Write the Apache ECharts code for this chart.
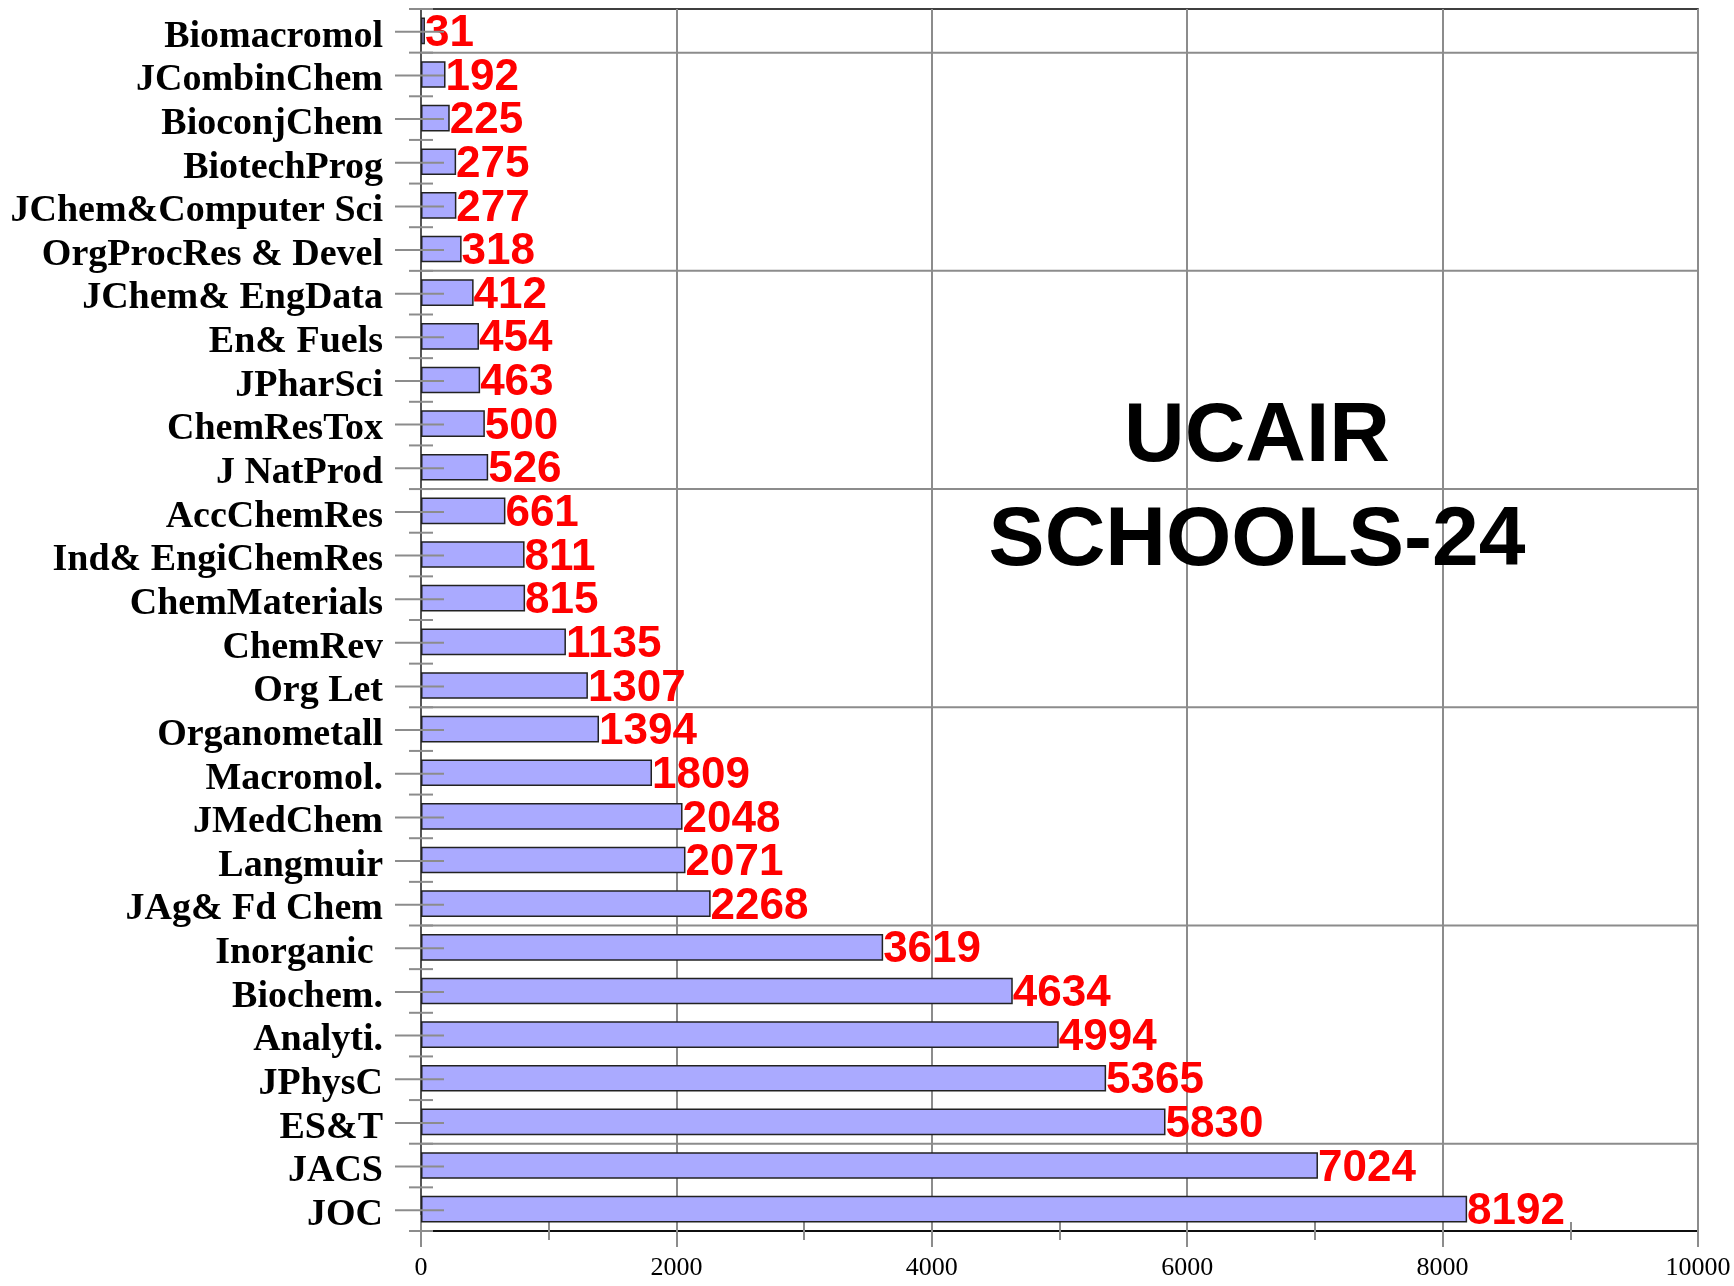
<!DOCTYPE html>
<html>
<head>
<meta charset="utf-8">
<script src="https://cdn.jsdelivr.net/npm/echarts@6/dist/echarts.min.js"></script>
<style>
  html, body { margin: 0; padding: 0; background: #fff; }
  #chart { width: 1734px; height: 1286px; }
</style>
</head>
<body>
<div id="chart"></div>
<script>
// journals, top to bottom
var journals = ['Biomacromol', 'JCombinChem', 'BioconjChem', 'BiotechProg', 'JChem&Computer Sci',
  'OrgProcRes & Devel', 'JChem& EngData', 'En& Fuels', 'JPharSci', 'ChemResTox', 'J NatProd',
  'AccChemRes', 'Ind& EngiChemRes', 'ChemMaterials', 'ChemRev', 'Org Let', 'Organometall',
  'Macromol.', 'JMedChem', 'Langmuir', 'JAg& Fd Chem', 'Inorganic ', 'Biochem.', 'Analyti.',
  'JPhysC', 'ES&T', 'JACS', 'JOC'];
var counts = [31, 192, 225, 275, 277, 318, 412, 454, 463, 500, 526, 661, 811, 815, 1135, 1307,
  1394, 1809, 2048, 2071, 2268, 3619, 4634, 4994, 5365, 5830, 7024, 8192];
// rows (from top) that get a horizontal grid line on their upper edge
var separatorRows = [1, 6, 11, 16, 21, 26];
var titleLines = ['UCAIR', 'SCHOOLS-24'];

var dom = document.getElementById('chart');
var myChart = echarts.init(dom, null, { renderer: 'canvas' });

var gray = '#8c8c8c';
var gridTop = 9, gridBottom = 55;
var gridH = 1286 - gridTop - gridBottom;

// tick marks on the category axis cross the axis line, so draw them here
function renderRowTicks(params, api) {
  var i = api.value(1);
  var c = api.coord([0, i]);
  var band = api.size([0, 1])[1];
  var x0 = c[0], yc = c[1] + 1, yTop = c[1] - band / 2;
  var st = { stroke: gray, lineWidth: 2 };
  var kids = [
    { type: 'line', shape: { x1: x0 - 26, y1: yc, x2: x0 + 23, y2: yc }, style: st },
    { type: 'line', shape: { x1: x0 - 12, y1: yTop, x2: x0 + 12, y2: yTop }, style: st }
  ];
  if (i === journals.length - 1) {
    kids.push({ type: 'line', shape: { x1: x0 - 12, y1: yTop + band, x2: x0 + 12, y2: yTop + band }, style: st });
  }
  if (separatorRows.indexOf(i) >= 0) {
    var xEnd = api.coord([10000, i])[0];
    kids.push({ type: 'line', shape: { x1: x0, y1: yTop, x2: xEnd, y2: yTop }, style: st });
  }
  return { type: 'group', children: kids };
}

var option = {
  animation: false,
  backgroundColor: '#fff',
  grid: {
    left: 421, right: 36, top: gridTop, bottom: gridBottom,
    show: true, borderColor: '#000', borderWidth: 1.5, backgroundColor: 'transparent'
  },
  xAxis: [
    {
      type: 'value', position: 'bottom', min: 0, max: 10000, interval: 2000,
      axisLine: { show: true, lineStyle: { color: '#000', width: 1.5 } },
      axisTick: { show: true, length: 16, lineStyle: { color: gray, width: 2 } },
      minorTick: { show: true, splitNumber: 2, length: 9, lineStyle: { color: gray, width: 2 } },
      splitLine: { show: true, lineStyle: { color: gray, width: 2 } },
      axisLabel: {
        margin: 24, color: '#000', fontFamily: 'Liberation Serif', fontSize: 26,
        formatter: function (v) { return String(v); }
      }
    },
    {
      // upper half of the crossing ticks: a top axis pushed down onto the bottom edge
      type: 'value', position: 'top', offset: -gridH, min: 0, max: 10000, interval: 2000,
      axisLine: { show: false },
      axisTick: { show: true, length: 16, lineStyle: { color: gray, width: 2 } },
      minorTick: { show: true, splitNumber: 2, length: 9, lineStyle: { color: gray, width: 2 } },
      splitLine: { show: false },
      axisLabel: { show: false }
    }
  ],
  yAxis: [
    {
      type: 'category', data: journals, inverse: true, position: 'left',
      axisLine: { show: true, lineStyle: { color: '#555', width: 2 } },
      axisTick: { show: false },
      axisLabel: {
        interval: 0, margin: 38, color: '#000',
        formatter: function (v) { return '{t|' + v + '}'; },
        rich: {
          t: {
            fontFamily: 'Liberation Serif', fontWeight: 'bold', fontSize: 38,
            color: '#000', padding: [12, 0, 0, 0]
          }
        }
      },
      splitLine: { show: false }
    }
  ],
  graphic: [{
    type: 'text', x: 1257, y: 490, z: 100,
    style: {
      text: titleLines.join('\n'),
      align: 'center', verticalAlign: 'middle',
      font: 'bold 84px "Liberation Sans"', lineHeight: 104, fill: '#000'
    }
  }],
  series: [
    {
      name: 'UCAIR', type: 'bar', data: counts, xAxisIndex: 0, yAxisIndex: 0,
      barWidth: '61%', z: 3,
      itemStyle: { color: '#aaaaff', borderColor: '#222', borderWidth: 1.5 },
      label: {
        show: true, position: 'right', distance: 0, offset: [0, 3], color: '#ff0000',
        fontFamily: 'Liberation Sans', fontWeight: 'bold', fontSize: 44
      }
    },
    {
      type: 'custom', xAxisIndex: 0, yAxisIndex: 0, silent: true, clip: false, z: 4,
      data: journals.map(function (j, i) { return [0, i]; }),
      renderItem: renderRowTicks
    }
  ]
};

myChart.setOption(option);
window.addEventListener('resize', myChart.resize);
</script>
</body>
</html>
